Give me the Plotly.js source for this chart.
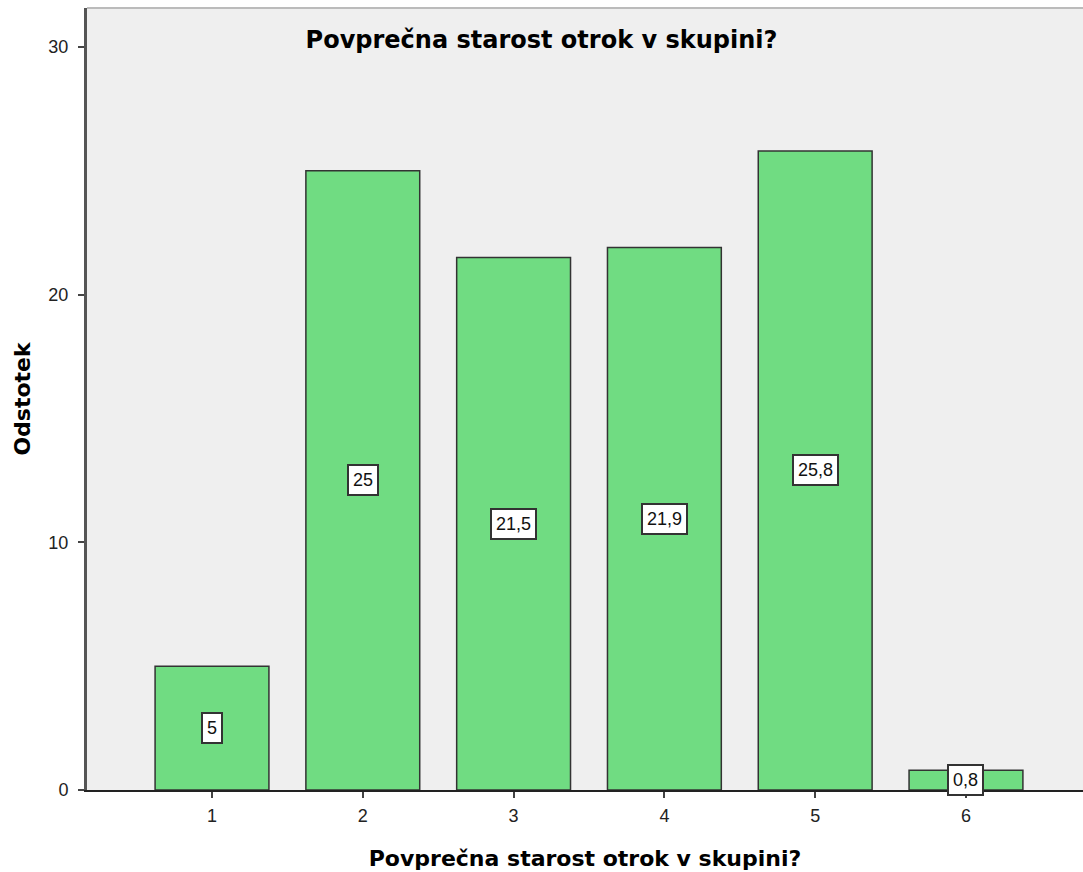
<!DOCTYPE html>
<html><head><meta charset="utf-8">
<script src="https://cdn.plot.ly/plotly-3.0.1.min.js"></script>
<style>html,body{margin:0;padding:0;background:#fff}</style>
</head><body><div id="chart" style="width:1083px;height:872px"></div>
<script>
const categories = [1, 2, 3, 4, 5, 6];
const percents = [5, 25, 21.5, 21.9, 25.8, 0.8];
const valueLabels = ["5", "25", "21,5", "21,9", "25,8", "0,8"];
const yTicks = [0, 10, 20, 30];

const trace = {
  type: 'bar', x: categories, y: percents,
  marker: {color: '#70dc82', line: {color: '#333333', width: 1.5}},
  hoverinfo: 'none'
};
const annotations = categories.map((c, i) => ({
  x: c, y: percents[i] / 2, xref: 'x', yref: 'y', text: valueLabels[i], showarrow: false,
  font: {family: 'Liberation Sans, Arial, sans-serif', size: 18, color: '#111'},
  bgcolor: '#ffffff', bordercolor: '#333333', borderwidth: 2, borderpad: 4
}));
const layout = {
  width: 1083, height: 872,
  margin: {l: 87, r: 0, t: 8, b: 82},
  paper_bgcolor: '#ffffff', plot_bgcolor: '#efefef',
  bargap: 0.245, showlegend: false,
  title: {text: 'Povprečna starost otrok v skupini?', x: 0.5, xref: 'container', xanchor: 'center',
    y: 0.955, yref: 'container', yanchor: 'middle',
    font: {family: 'DejaVu Sans, sans-serif', size: 24, color: '#000', weight: 'bold'}},
  xaxis: {range: [0.171, 6.776], tickvals: categories, ticktext: categories.map(String),
    ticks: 'outside', ticklen: 6, tickwidth: 2, tickcolor: '#444', showgrid: false, zeroline: false,
    showline: true, linecolor: '#222', linewidth: 2, ticklabelstandoff: 2,
    tickfont: {family: 'Liberation Sans, Arial, sans-serif', size: 18, color: '#222'},
    title: {text: 'Povprečna starost otrok v skupini?', standoff: 26,
      font: {family: 'DejaVu Sans, sans-serif', size: 22, color: '#000', weight: 'bold'}}},
  yaxis: {range: [0, 31.57], tickvals: yTicks, ticks: 'outside', ticklen: 6, tickwidth: 2, tickcolor: '#444',
    showgrid: false, zeroline: false, showline: true, linecolor: '#555', linewidth: 3, ticklabelstandoff: 6,
    tickfont: {family: 'Liberation Sans, Arial, sans-serif', size: 18, color: '#222'},
    title: {text: 'Odstotek', standoff: 12,
      font: {family: 'DejaVu Sans, sans-serif', size: 22, color: '#000', weight: 'bold'}}},
  annotations: annotations,
  shapes: [{type: 'line', xref: 'paper', yref: 'paper', x0: 0, x1: 1, y0: 1, y1: 1,
    line: {color: '#bbbbbb', width: 2}}]
};
Plotly.newPlot('chart', [trace], layout, {staticPlot: true});
</script></body></html>
